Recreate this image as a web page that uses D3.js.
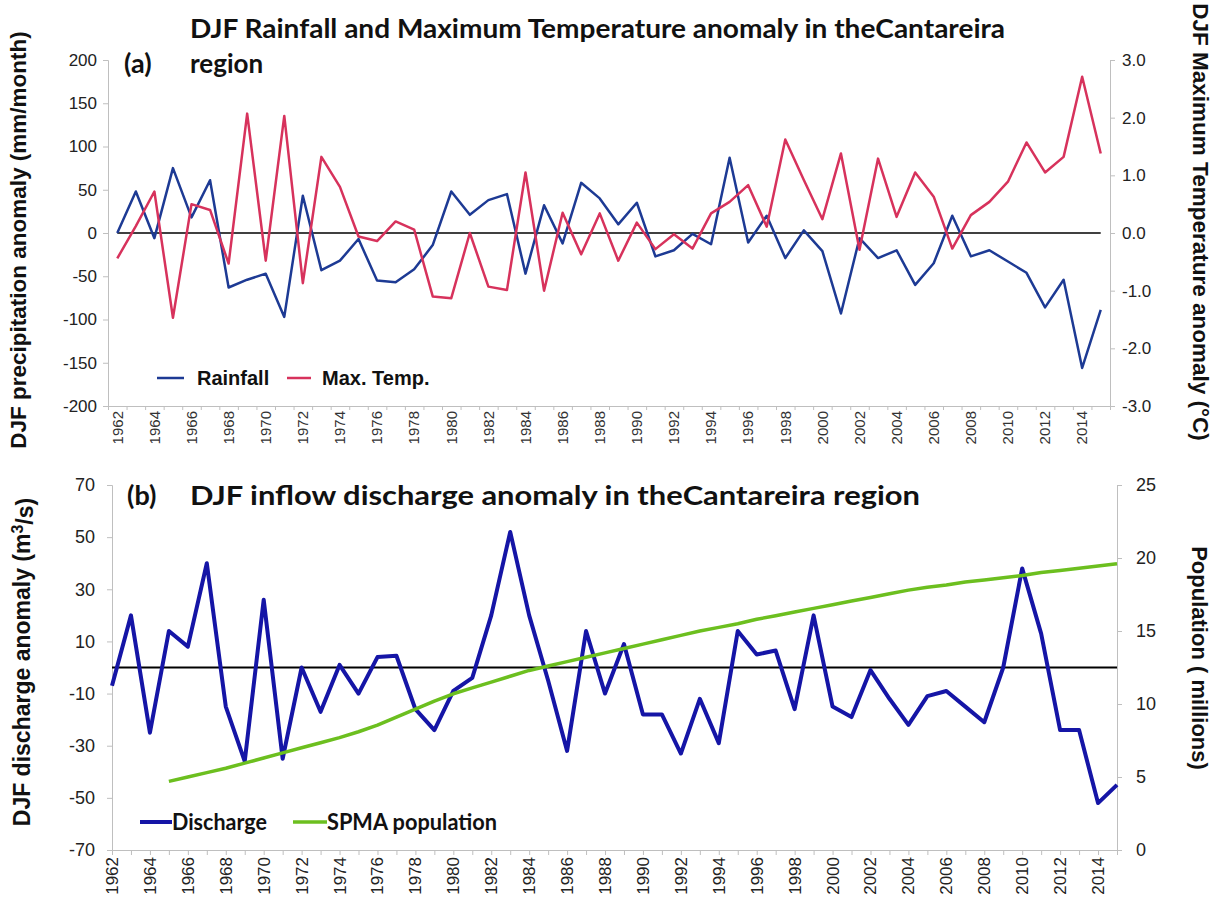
<!DOCTYPE html>
<html>
<head>
<meta charset="utf-8">
<script src="https://cdn.jsdelivr.net/npm/d3@7"></script>
<style>
  body { margin: 0; background: #fff; }
  svg { display: block; }
</style>
</head>
<body>
<svg id="chart" width="1221" height="904"></svg>
<script>
// categories
const years = [1962, 1963, 1964, 1965, 1966, 1967, 1968, 1969, 1970, 1971,
  1972, 1973, 1974, 1975, 1976, 1977, 1978, 1979, 1980, 1981,
  1982, 1983, 1984, 1985, 1986, 1987, 1988, 1989, 1990, 1991,
  1992, 1993, 1994, 1995, 1996, 1997, 1998, 1999, 2000, 2001,
  2002, 2003, 2004, 2005, 2006, 2007, 2008, 2009, 2010, 2011,
  2012, 2013, 2014, 2015];

// (a) DJF rainfall anomaly, mm/month
const rainfall = [0, 48, -6, 75, 18, 61, -63, -54, -47, -97,
  43, -43, -32, -7, -55, -57, -42, -14, 48, 21,
  38, 45, -47, 32, -12, 58, 40, 10, 35, -27,
  -20, -1, -13, 87, -11, 20, -29, 3, -21, -93,
  -6, -29, -20, -60, -35, 20, -27, -20, -33, -46,
  -86, -54, -156, -89];

// (a) DJF maximum temperature anomaly, °C
const maxTemp = [-0.44, 0.12, 0.72, -1.47, 0.50, 0.40, -0.53, 2.07, -0.48, 2.03,
  -0.87, 1.32, 0.80, -0.06, -0.14, 0.20, 0.06, -1.10, -1.13, 0.0,
  -0.93, -0.99, 1.05, -1.00, 0.35, -0.37, 0.34, -0.48, 0.18, -0.28,
  -0.02, -0.27, 0.34, 0.54, 0.83, 0.11, 1.62, 0.92, 0.24, 1.38,
  -0.29, 1.29, 0.28, 1.05, 0.63, -0.27, 0.31, 0.54, 0.89, 1.57,
  1.05, 1.32, 2.71, 1.38];

// (b) DJF inflow discharge anomaly, m3/s
const discharge = [-7, 20, -25, 14, 8, 40, -15, -36, 26, -35,
  0, -17, 1, -10, 4, 4.5, -16, -24, -9, -4,
  20, 52, 20, -5, -32, 14, -10, 9, -18, -18,
  -33, -12, -29, 14, 5, 6.5, -16, 20, -15, -19,
  -1, -12, -22, -11, -9, -15, -21, 0, 38, 13,
  -24, -24, -52, -45];

// (b) SPMA population, millions (starts in 1965)
const population = [null, null, null, 4.7, 5.0, 5.3, 5.6, 5.95, 6.3, 6.65,
  7.0, 7.35, 7.7, 8.1, 8.55, 9.1, 9.65, 10.2, 10.7, 11.1,
  11.5, 11.9, 12.3, 12.6, 12.9, 13.2, 13.5, 13.8, 14.1, 14.4,
  14.7, 15.0, 15.25, 15.5, 15.8, 16.05, 16.3, 16.55, 16.8, 17.05,
  17.3, 17.55, 17.8, 18.0, 18.15, 18.35, 18.5, 18.65, 18.8, 19.0,
  19.15, 19.3, 19.45, 19.6];

// tick labels
const rainTicks = [-200, -150, -100, -50, 0, 50, 100, 150, 200];
const tempTicks = [-3, -2, -1, 0, 1, 2, 3];
const dischargeTicks = [-70, -50, -30, -10, 10, 30, 50, 70];
const popTicks = [0, 5, 10, 15, 20, 25];
const yearLabels = years.filter(y => y % 2 === 0);

const svg = d3.select('#chart');
const tickFont = 'Liberation Sans, Arial, sans-serif';
const titleFont = 'Lato, Calibri, sans-serif';
const axisGrey = '#bfbfbf';

function styleAxis(g, size) {
  g.selectAll('.domain').attr('stroke', axisGrey).attr('stroke-width', 1);
  g.selectAll('.tick line').attr('stroke', axisGrey);
  g.selectAll('.tick text')
    .attr('font-family', tickFont)
    .attr('font-size', size)
    .attr('fill', '#222');
}

// ---------- panel (a) ----------
const xTop = d3.scaleLinear().domain([1961.5, 2015.5]).range([108, 1110]);
const yRain = d3.scaleLinear().domain([-200, 200]).range([406, 60]);
const yTemp = d3.scaleLinear().domain([-3, 3]).range([406, 60]);

svg.append('g')
  .attr('transform', 'translate(108,0)')
  .call(d3.axisLeft(yRain).tickValues(rainTicks).tickSize(5).tickPadding(6)
    .tickFormat(d => String(d)))
  .call(g => styleAxis(g, 17));

svg.append('g')
  .attr('transform', 'translate(1110,0)')
  .call(d3.axisRight(yTemp).tickValues(tempTicks).tickSize(5).tickPadding(7)
    .tickFormat(d => d.toFixed(1)))
  .call(g => styleAxis(g, 17));

const topBounds = years.map(y => y - 0.5).concat([2015.5]);
svg.append('g')
  .attr('transform', 'translate(0,406)')
  .call(d3.axisBottom(xTop).tickValues(topBounds).tickSize(4).tickFormat(''))
  .call(g => styleAxis(g, 14));

svg.append('g').selectAll('text')
  .data(yearLabels)
  .join('text')
  .attr('transform', d => `translate(${xTop(d)},411) rotate(-90)`)
  .attr('text-anchor', 'end')
  .attr('dy', '0.35em')
  .attr('font-family', tickFont)
  .attr('font-size', 15)
  .attr('fill', '#333')
  .text(d => d);

// zero line
svg.append('line')
  .attr('x1', xTop(years[0])).attr('x2', xTop(years[years.length - 1]))
  .attr('y1', yRain(0)).attr('y2', yRain(0))
  .attr('stroke', '#000').attr('stroke-width', 1.5);

const rainLine = d3.line().x((d, i) => xTop(years[i])).y(d => yRain(d));
const tempLine = d3.line().x((d, i) => xTop(years[i])).y(d => yTemp(d));

svg.append('path').datum(rainfall)
  .attr('d', rainLine)
  .attr('fill', 'none').attr('stroke', '#1d3a94').attr('stroke-width', 2.5)
  .attr('stroke-linejoin', 'round');

svg.append('path').datum(maxTemp)
  .attr('d', tempLine)
  .attr('fill', 'none').attr('stroke', '#d7325c').attr('stroke-width', 2.5)
  .attr('stroke-linejoin', 'round');

// titles (a)
svg.append('text')
  .attr('x', 190).attr('y', 38)
  .attr('font-family', titleFont).attr('font-weight', 'bold').attr('font-size', 26)
  .attr('textLength', 815).attr('lengthAdjust', 'spacingAndGlyphs')
  .attr('fill', '#111')
  .text('DJF Rainfall and Maximum Temperature anomaly  in theCantareira');
svg.append('text')
  .attr('x', 190).attr('y', 73)
  .attr('font-family', titleFont).attr('font-weight', 'bold').attr('font-size', 26)
  .attr('fill', '#111')
  .text('region');
svg.append('text')
  .attr('x', 124).attr('y', 73)
  .attr('font-family', titleFont).attr('font-weight', 'bold').attr('font-size', 27)
  .attr('fill', '#111')
  .text('(a)');

svg.append('text')
  .attr('transform', 'translate(26,240) rotate(-90)')
  .attr('text-anchor', 'middle')
  .attr('font-family', tickFont).attr('font-weight', 'bold').attr('font-size', 22.5)
  .attr('fill', '#111')
  .text('DJF precipitation anomaly (mm/month)');

svg.append('text')
  .attr('transform', 'translate(1193,222) rotate(90)')
  .attr('text-anchor', 'middle')
  .attr('font-family', tickFont).attr('font-weight', 'bold').attr('font-size', 22.5)
  .attr('fill', '#111')
  .text('DJF Maximum Temperature anomaly (°C)');

// legend (a)
const legA = svg.append('g');
legA.append('line').attr('x1', 157).attr('x2', 184).attr('y1', 378).attr('y2', 378)
  .attr('stroke', '#1d3a94').attr('stroke-width', 2.5);
legA.append('text').attr('x', 197).attr('y', 385)
  .attr('font-family', tickFont).attr('font-weight', 'bold').attr('font-size', 20)
  .attr('fill', '#111').text('Rainfall');
legA.append('line').attr('x1', 287).attr('x2', 311).attr('y1', 378).attr('y2', 378)
  .attr('stroke', '#d7325c').attr('stroke-width', 2.5);
legA.append('text').attr('x', 322).attr('y', 385)
  .attr('font-family', tickFont).attr('font-weight', 'bold').attr('font-size', 20)
  .attr('fill', '#111').text('Max. Temp.');

// ---------- panel (b) ----------
const xBot = d3.scaleLinear().domain([1962, 2015]).range([112, 1117]);
const yDis = d3.scaleLinear().domain([-70, 70]).range([850, 485]);
const yPop = d3.scaleLinear().domain([0, 25]).range([850, 485]);

svg.append('g')
  .attr('transform', 'translate(112,0)')
  .call(d3.axisLeft(yDis).tickValues(dischargeTicks).tickSize(5).tickPadding(12)
    .tickFormat(d => String(d)))
  .call(g => styleAxis(g, 18));

svg.append('g')
  .attr('transform', 'translate(1117,0)')
  .call(d3.axisRight(yPop).tickValues(popTicks).tickSize(5).tickPadding(14)
    .tickFormat(d => String(d)))
  .call(g => styleAxis(g, 18));

svg.append('g')
  .attr('transform', 'translate(0,850)')
  .call(d3.axisBottom(xBot).tickValues(years).tickSize(5).tickFormat(''))
  .call(g => styleAxis(g, 16));

svg.append('g').selectAll('text')
  .data(yearLabels)
  .join('text')
  .attr('transform', d => `translate(${xBot(d)},857) rotate(-90)`)
  .attr('text-anchor', 'end')
  .attr('dy', '0.35em')
  .attr('font-family', tickFont)
  .attr('font-size', 17)
  .attr('fill', '#222')
  .text(d => d);

svg.append('line')
  .attr('x1', xBot(years[0])).attr('x2', xBot(years[years.length - 1]))
  .attr('y1', yDis(0)).attr('y2', yDis(0))
  .attr('stroke', '#000').attr('stroke-width', 2);

const disLine = d3.line().x((d, i) => xBot(years[i])).y(d => yDis(d));
const popLine = d3.line()
  .defined(d => d !== null)
  .x((d, i) => xBot(years[i])).y(d => yPop(d));

svg.append('path').datum(discharge)
  .attr('d', disLine)
  .attr('fill', 'none').attr('stroke', '#1515a6').attr('stroke-width', 4)
  .attr('stroke-linejoin', 'round');

svg.append('path').datum(population)
  .attr('d', popLine)
  .attr('fill', 'none').attr('stroke', '#6cbf1f').attr('stroke-width', 3.5)
  .attr('stroke-linejoin', 'round');

// titles (b)
svg.append('text')
  .attr('x', 127).attr('y', 505)
  .attr('font-family', titleFont).attr('font-weight', 'bold').attr('font-size', 27)
  .attr('fill', '#111')
  .text('(b)');
svg.append('text')
  .attr('x', 190).attr('y', 505)
  .attr('font-family', titleFont).attr('font-weight', 'bold').attr('font-size', 27)
  .attr('textLength', 730).attr('lengthAdjust', 'spacingAndGlyphs')
  .attr('fill', '#111')
  .text('DJF inflow discharge anomaly in theCantareira region');

const disTitle = svg.append('text')
  .attr('transform', 'translate(30,662) rotate(-90)')
  .attr('text-anchor', 'middle')
  .attr('font-family', tickFont).attr('font-weight', 'bold').attr('font-size', 23)
  .attr('fill', '#111');
disTitle.append('tspan').text('DJF  discharge anomaly (m');
disTitle.append('tspan').attr('dy', '-0.45em').attr('font-size', 16).text('3');
disTitle.append('tspan').attr('dy', '0.45em').text('/s)');

svg.append('text')
  .attr('transform', 'translate(1192,658) rotate(90)')
  .attr('text-anchor', 'middle')
  .attr('font-family', tickFont).attr('font-weight', 'bold').attr('font-size', 22)
  .attr('fill', '#111')
  .text('Population ( millions)');

// legend (b)
const legB = svg.append('g');
legB.append('line').attr('x1', 140).attr('x2', 172).attr('y1', 822).attr('y2', 822)
  .attr('stroke', '#1515a6').attr('stroke-width', 4);
legB.append('text').attr('x', 172).attr('y', 830)
  .attr('font-family', titleFont).attr('font-weight', 'bold').attr('font-size', 22)
  .attr('textLength', 95).attr('lengthAdjust', 'spacingAndGlyphs')
  .attr('fill', '#111').text('Discharge');
legB.append('line').attr('x1', 293).attr('x2', 327).attr('y1', 822).attr('y2', 822)
  .attr('stroke', '#6cbf1f').attr('stroke-width', 3.5);
legB.append('text').attr('x', 327).attr('y', 830)
  .attr('font-family', titleFont).attr('font-weight', 'bold').attr('font-size', 22)
  .attr('textLength', 170).attr('lengthAdjust', 'spacingAndGlyphs')
  .attr('fill', '#111').text('SPMA population');
</script>
</body>
</html>
